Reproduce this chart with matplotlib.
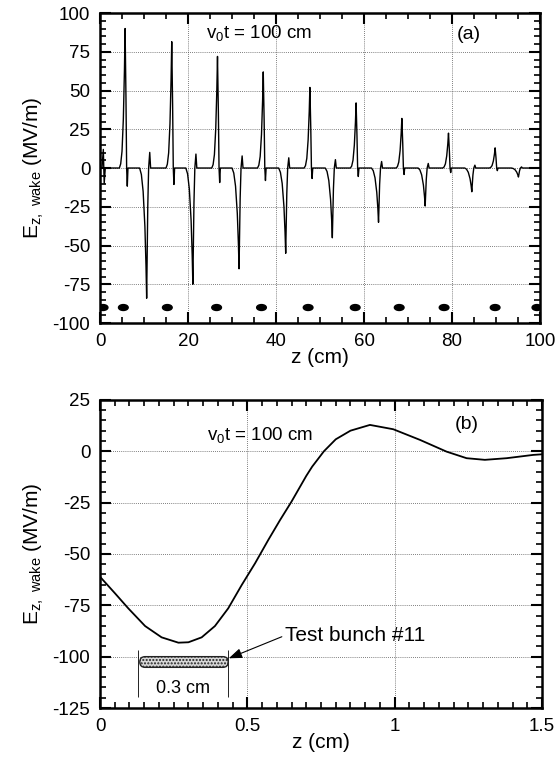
import matplotlib
matplotlib.use("Agg")
import matplotlib.pyplot as plt
from matplotlib.patches import Ellipse, FancyBboxPatch
from matplotlib.ticker import MultipleLocator

plt.rcParams['font.family'] = ['Liberation Sans', 'DejaVu Sans']
plt.rcParams['mathtext.default'] = 'regular'
plt.rcParams['axes.unicode_minus'] = False

# ---- panel (a): wake over 100 cm ----
pos_z = [5.7, 16.3, 26.7, 37.1, 47.7, 58.2, 68.6, 79.2, 89.8]
pos_amp = [90, 81.5, 72, 62, 52, 42, 32, 22.5, 13]
neg_z = [10.6, 21.1, 31.6, 42.2, 52.8, 63.3, 73.9, 84.5, 95.1]
neg_amp = [-84, -75, -65, -55, -45, -35, -24.5, -15.3, -5.8]

# pulse shapes: offset from peak (cm), fraction of peak
pos_shape_dz = [-1.3, -1.0, -0.7, -0.4, -0.15, 0.0, 0.2, 0.35, 0.5, 0.65]
pos_shape_f = [0.0, 0.03, 0.12, 0.35, 0.7, 1.0, 0.5, 0.0, -0.13, 0.0]
neg_shape_dz = [-1.6, -1.2, -0.8, -0.4, -0.15, 0.0, 0.25, 0.45, 0.7, 0.9]
neg_shape_f = [0.0, 0.05, 0.18, 0.45, 0.75, 1.0, 0.3, 0.0, -0.12, 0.0]

# small feature near the drive bunch at z ~ 0
start_z = [0.0, 0.45, 0.75, 0.95, 1.2, 1.5]
start_e = [0.0, 0.0, 12.0, -10.0, 0.0, 0.0]

drive_z = [0.7, 5.3, 15.3, 26.5, 36.7, 47.3, 58.0, 68.0, 78.2, 89.8, 99.3]
drive_e = -90

# ---- panel (b): wake near test bunch #11 ----
b_z = [0.0, 0.051, 0.096, 0.153, 0.209, 0.266, 0.30, 0.345, 0.39, 0.435,
       0.481, 0.526, 0.571, 0.611, 0.65, 0.70, 0.72, 0.76, 0.80, 0.85, 0.916,
       0.995, 1.086, 1.176, 1.244, 1.306, 1.38, 1.47, 1.5]
b_e = [-61.1, -69.2, -76.5, -85.1, -90.6, -93.2, -93.0, -90.6, -85.1, -76.5,
       -65.1, -54.6, -43.2, -33.5, -24.5, -12.0, -7.5, 0.0, 5.8, 10.0, 12.8,
       10.7, 5.5, -0.2, -3.4, -4.2, -3.4, -1.8, -1.5]


def build_wake():
    pts = list(zip(start_z, start_e))
    for zc, a in zip(pos_z, pos_amp):
        pts += [(zc + d, a * f) for d, f in zip(pos_shape_dz, pos_shape_f)]
    for zc, a in zip(neg_z, neg_amp):
        pts += [(zc + d, a * f) for d, f in zip(neg_shape_dz, neg_shape_f)]
    pts.append((100.0, 0.0))
    pts.sort()
    return [p[0] for p in pts], [p[1] for p in pts]


def style_axes(ax, xmaj, xmin, ymaj, ymin):
    ax.xaxis.set_major_locator(MultipleLocator(xmaj))
    ax.xaxis.set_minor_locator(MultipleLocator(xmin))
    ax.yaxis.set_major_locator(MultipleLocator(ymaj))
    ax.yaxis.set_minor_locator(MultipleLocator(ymin))
    ax.tick_params(which='both', direction='in', top=True, right=True,
                   width=1.5, labelsize=13.5, pad=7)
    ax.tick_params(which='major', length=8)
    ax.tick_params(which='minor', length=4, width=1.2)
    for s in ax.spines.values():
        s.set_linewidth(1.8)
    ax.grid(True, which='major', linestyle=(0, (1, 1.5)), color='#555555',
            linewidth=0.6)


fig = plt.figure(figsize=(5.6, 7.66), dpi=100)
ax1 = fig.add_axes([0.1786, 0.5783, 0.7857, 0.4047])
ax2 = fig.add_axes([0.1786, 0.0757, 0.7893, 0.4023])

ylab = 'E$_{z,\\ wake}$ (MV/m)'

# panel (a)
wz, we = build_wake()
ax1.plot(wz, we, color='black', lw=1.0)
for zc in drive_z:
    ax1.add_patch(Ellipse((zc, drive_e), 2.2, 3.8, color='black'))
ax1.set_xlim(0, 100)
ax1.set_ylim(-100, 100)
style_axes(ax1, 20, 5, 25, 5)
ax1.set_xlabel('z (cm)', fontsize=15, labelpad=-1)
ax1.set_ylabel(ylab, fontsize=15, labelpad=5)
ax1.text(24, 87, 'v$_0$t = 100 cm', fontsize=13.5, va='center')
ax1.text(81, 86, '(a)', fontsize=14, va='center')

# panel (b)
ax2.plot(b_z, b_e, color='black', lw=1.3)
ax2.set_xlim(0, 1.5)
ax2.set_ylim(-125, 25)
style_axes(ax2, 0.5, 0.05, 25, 5)
ax2.set_xticks([0, 0.5, 1, 1.5])
ax2.set_xticklabels(['0', '0.5', '1', '1.5'])
ax2.set_xlabel('z (cm)', fontsize=15, labelpad=-1)
ax2.set_ylabel(ylab, fontsize=15, labelpad=5)
ax2.text(0.362, 8, 'v$_0$t = 100 cm', fontsize=13.5, va='center')
ax2.text(1.205, 12.8, '(b)', fontsize=14, va='center')

# test bunch
r = 0.018
bunch = FancyBboxPatch((0.135, -105.2), 0.3, 5.2,
                       boxstyle='round,pad=0,rounding_size=%g' % r,
                       mutation_aspect=2.6 / r, facecolor='#d8d8d8',
                       edgecolor='#222222', hatch='.....', lw=1.0, zorder=3)
ax2.add_patch(bunch)
ax2.vlines([0.130, 0.435], -119.5, -97, color='black', lw=0.6)
ax2.text(0.283, -115.4, '0.3 cm', fontsize=13, ha='center', va='center')
ax2.annotate('', xy=(0.437, -100.8), xytext=(0.617, -90.3),
             arrowprops=dict(arrowstyle='-|>,head_length=0.8,head_width=0.3',
                             color='black', lw=0.8, shrinkA=0, shrinkB=0))
ax2.text(0.628, -89.5, 'Test bunch #11', fontsize=15, va='center')

fig.savefig('out.png', dpi=100)
